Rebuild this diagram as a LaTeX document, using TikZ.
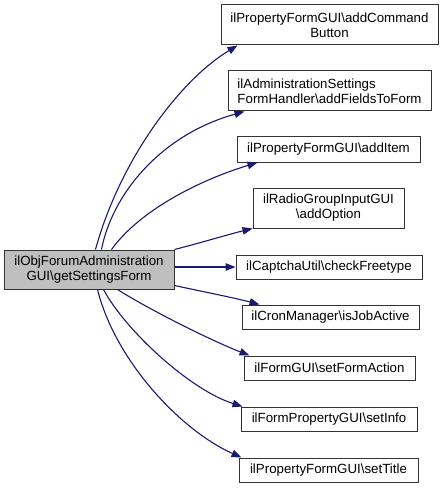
\documentclass[tikz,border=0pt]{standalone}
\usepackage{fontspec}
\setmainfont{Liberation Sans}
\usetikzlibrary{arrows.meta}
\definecolor{edgeblue}{HTML}{191970}
\definecolor{srcgray}{HTML}{BFBFBF}
\tikzset{
  fnbox/.style={draw=black!80, line width=1pt, fill=white, inner sep=0pt, align=center,
    font=\fontsize{13.3}{15}\selectfont},
  srcbox/.style={fnbox, fill=srcgray},
  call/.style={draw=edgeblue, line width=1.1pt, -{Triangle[length=10pt,width=7.5pt]}},
}
\begin{document}
\begin{tikzpicture}[x=1pt,y=-1pt]
\useasboundingbox (0,0) rectangle (443,489);
\node[srcbox, minimum width=170pt, minimum height=39pt] (src) at (89,269.5) {ilObjForumAdministration\\GUI\textbackslash getSettingsForm};
\node[fnbox, minimum width=217pt, minimum height=40pt] (cb) at (329.5,25) {ilPropertyFormGUI\textbackslash addCommand\\Button};
\node[fnbox, align=left, minimum width=203pt, minimum height=40pt] (ff) at (329.5,91) {ilAdministrationSettings\\FormHandler\textbackslash addFieldsToForm};
\node[fnbox, minimum width=183pt, minimum height=25pt] (ai) at (328.5,149.5) {ilPropertyFormGUI\textbackslash addItem};
\node[fnbox, minimum width=151pt, minimum height=40pt] (ao) at (328.5,208) {ilRadioGroupInputGUI\\\textbackslash addOption};
\node[fnbox, minimum width=186pt, minimum height=24pt] (cf) at (329,267) {ilCaptchaUtil\textbackslash checkFreetype};
\node[fnbox, minimum width=177pt, minimum height=24pt] (ja) at (330.5,317) {ilCronManager\textbackslash isJobActive};
\node[fnbox, minimum width=171pt, minimum height=24pt] (fa) at (329.5,368) {ilFormGUI\textbackslash setFormAction};
\node[fnbox, minimum width=176pt, minimum height=24pt] (si) at (329,419) {ilFormPropertyGUI\textbackslash setInfo};
\node[fnbox, minimum width=179pt, minimum height=24pt] (st) at (328.5,470) {ilPropertyFormGUI\textbackslash setTitle};

\draw[call] ([xshift=92pt]src.north west) .. controls (120,160) and (180,80) .. ([xshift=17pt]cb.south west);
\draw[call] ([xshift=98pt]src.north west) .. controls (112,195) and (160,135) .. ([xshift=17pt]ff.south west);
\draw[call] ([xshift=108pt]src.north west) .. controls (140,210) and (200,180) .. ([xshift=21pt]ai.south west);
\draw[call] (src.north east) .. controls (200,243) and (230,234) .. (ao.south west);
\draw[call] (src.east |- cf.west) -- (cf.west);
\draw[call] ([yshift=-16pt]src.east) .. controls (200,291) and (235,298) .. ([xshift=18pt]ja.north west);
\draw[call] ([xshift=114pt]src.south west) .. controls (150,310) and (210,340) .. ([xshift=6pt]fa.north west);
\draw[call] ([xshift=100pt]src.south west) .. controls (125,330) and (190,390) .. ([xshift=2pt]si.north west);
\draw[call] ([xshift=94pt]src.south west) .. controls (115,360) and (180,430) .. ([xshift=3pt]st.north west);
\end{tikzpicture}
\end{document}
